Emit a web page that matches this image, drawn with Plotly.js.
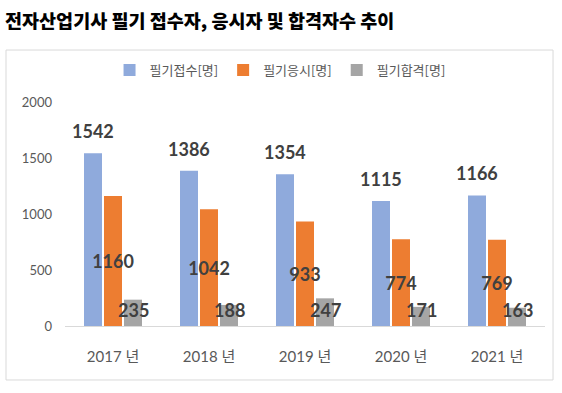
<!DOCTYPE html>
<html>
<head>
<meta charset="utf-8">
<script src="https://cdn.plot.ly/plotly-3.0.1.min.js"></script>
<style>html,body{margin:0;padding:0;background:#fff;}#chart{width:562px;height:393px;}</style>
</head>
<body>
<div id="chart"></div>
<script>
const years = ['2017 년', '2018 년', '2019 년', '2020 년', '2021 년'];
const seriesNames = ['필기접수[명]', '필기응시[명]', '필기합격[명]'];
const receipt = [1542, 1386, 1354, 1115, 1166];
const attended = [1160, 1042, 933, 774, 769];
const passed = [235, 188, 247, 171, 163];
const yTicks = [0, 500, 1000, 1500, 2000];

const colors = ['#8FAADC', '#ED7D31', '#A5A5A5'];
const numFont = 'Lato, "Noto Sans CJK KR", sans-serif';
const krFont = '"Noto Sans CJK KR", Lato, sans-serif';
const labelFont = {family: numFont, size: 18, color: '#404040', weight: 700};

const traces = [
  {type: 'bar', name: seriesNames[0], x: years, y: receipt, marker: {color: colors[0]}, hoverinfo: 'none'},
  {type: 'bar', name: seriesNames[1], x: years, y: attended, marker: {color: colors[1]},
   text: attended.map(String), textposition: 'inside', insidetextanchor: 'middle',
   constraintext: 'none', textangle: 0, insidetextfont: labelFont, hoverinfo: 'none'},
  {type: 'bar', name: seriesNames[2], x: years, y: passed, marker: {color: colors[2]}, hoverinfo: 'none'}
];

const annotations = [];
years.forEach((yr, i) => {
  annotations.push({x: yr, y: receipt[i], text: String(receipt[i]), showarrow: false,
    xshift: -20, yshift: 22, yanchor: 'middle', font: labelFont});
  annotations.push({x: yr, y: 0, text: String(passed[i]), showarrow: false,
    xshift: 20, yshift: 16, yanchor: 'middle', font: labelFont});
});

const layout = {
  width: 562, height: 393,
  margin: {l: 65, r: 17, t: 102, b: 67},
  paper_bgcolor: '#fff', plot_bgcolor: '#fff',
  barmode: 'group', bargap: 0.375, bargroupgap: 0.1,
  showlegend: true,
  title: {text: '전자산업기사 필기 접수자, 응시자 및 합격자수 추이',
    xref: 'container', yref: 'container', x: 0.009, xanchor: 'left', y: 0.944, yanchor: 'middle',
    font: {family: krFont, size: 18.5, color: '#000', weight: 900}},
  legend: {orientation: 'h', xref: 'paper', yref: 'paper', x: 0.448, xanchor: 'center',
    y: 1.143, yanchor: 'middle', itemwidth: 30, traceorder: 'normal',
    font: {family: krFont, size: 13, color: '#595959'}},
  xaxis: {type: 'category', showline: true, linecolor: '#d9d9d9', linewidth: 1,
    showgrid: false, zeroline: false, ticks: '', ticklabelstandoff: 17,
    tickfont: {family: numFont, size: 15, color: '#595959'}, fixedrange: true},
  yaxis: {range: [0, 2000], tickvals: yTicks, ticktext: yTicks.map(String),
    showline: false, showgrid: false, zeroline: false, ticks: '', ticklabelstandoff: 12,
    tickfont: {family: numFont, size: 13, color: '#595959'}, fixedrange: true},
  shapes: [{type: 'rect', xref: 'paper', yref: 'paper', x0: -0.1229, x1: 1.0167, y0: -0.241, y1: 1.232,
    line: {color: '#d9d9d9', width: 1}, fillcolor: 'rgba(0,0,0,0)', layer: 'below'}],
  annotations: annotations
};

Plotly.newPlot('chart', traces, layout, {displayModeBar: false, staticPlot: true});
</script>
</body>
</html>
